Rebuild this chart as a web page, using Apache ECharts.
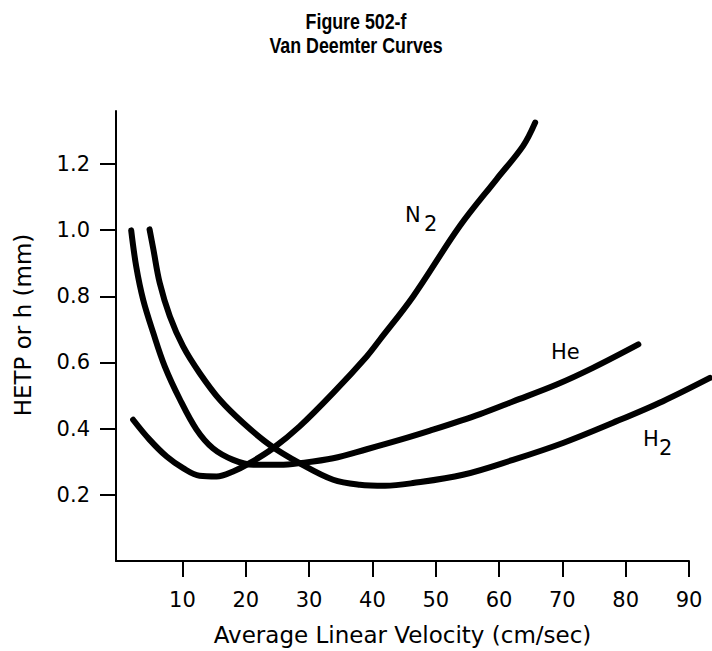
<!DOCTYPE html>
<html>
<head>
<meta charset="utf-8">
<script src="https://cdn.jsdelivr.net/npm/echarts@6/dist/echarts.min.js"></script>
<style>
  html, body { margin: 0; padding: 0; background: #fff; }
  #chart { width: 712px; height: 651px; }
</style>
</head>
<body>
<div id="chart"></div>
<script>
// ---- data ----
const heVelocity = [1.9, 2.7, 3.8, 5.4, 7.2, 9.6, 12.2, 14.8, 18.0, 21.2, 25.4, 28.5, 33.8, 39.1, 44.3, 49.1, 57.0, 62.2, 69.1, 74.9, 82.0];
const heHetp     = [1.0, 0.89, 0.79, 0.69, 0.59, 0.49, 0.40, 0.343, 0.308, 0.293, 0.293, 0.298, 0.313, 0.34, 0.368, 0.396, 0.446, 0.484, 0.535, 0.586, 0.656];

const h2Velocity = [4.8, 5.4, 6.4, 8.0, 10.1, 12.7, 15.9, 19.6, 23.8, 28.5, 33.8, 38.0, 42.0, 46.4, 54.3, 62.2, 70.1, 78.0, 85.9, 93.3];
const h2Hetp     = [1.003, 0.943, 0.842, 0.741, 0.65, 0.57, 0.489, 0.419, 0.353, 0.298, 0.248, 0.233, 0.23, 0.238, 0.263, 0.308, 0.359, 0.42, 0.485, 0.555];

const n2Velocity = [2.2, 4.8, 7.5, 10.1, 12.7, 15.4, 18.0, 20.6, 24.3, 28.5, 33.8, 39.1, 41.2, 46.4, 53.8, 59.6, 63.8, 65.7];
const n2Hetp     = [0.429, 0.369, 0.318, 0.283, 0.26, 0.258, 0.273, 0.298, 0.343, 0.409, 0.51, 0.62, 0.671, 0.80, 1.013, 1.154, 1.255, 1.325];

const xTicks = [10, 20, 30, 40, 50, 60, 70, 80, 90];
const yTicks = [0.2, 0.4, 0.6, 0.8, 1.0, 1.2];

const titleLines = ['Figure 502-f', 'Van Deemter Curves'];
const xName = 'Average Linear Velocity (cm/sec)';
const yName = 'HETP or h (mm)';

// ---- chart ----
const pair = (xs, ys) => xs.map((x, i) => [x, ys[i]]);
const FONT = '"DejaVu Sans", Verdana, sans-serif';
const TFONT = 'bold 22px "Liberation Sans", Arial, sans-serif';
const chart = echarts.init(document.getElementById('chart'), null, { renderer: 'svg' });

// axis geometry
const X_MIN = -0.5, X_MAX = 90, Y_MIN = 0, Y_MAX = 1.36;
const GL = 116, GR = 23, GT = 111, GB = 89, W = 712;
const pxPerUnit = (W - GL - GR) / (X_MAX - X_MIN);
const X_MAX_PLOT = X_MIN + (W - GL) / pxPerUnit; // plotting grid reaches the right edge

const curve = (name, data) => ({
  name, type: 'line', data, smooth: 0.35, symbol: 'none', clip: false,
  xAxisIndex: 1, yAxisIndex: 1,
  lineStyle: { color: '#000', width: 6, cap: 'round', join: 'round' },
  emphasis: { disabled: true }, silent: true
});

const txt = (text, x, y, extra) => ({
  type: 'text', x, y, silent: true,
  style: Object.assign({ text, font: '21px ' + FONT, fill: '#000' }, extra || {})
});

chart.setOption({
  animation: false,
  backgroundColor: '#fff',
  grid: [
    { left: GL, right: GR, top: GT, bottom: GB, containLabel: false },
    { left: GL, right: 0, top: GT, bottom: GB, containLabel: false }
  ],
  xAxis: [{
    gridIndex: 0, type: 'value', min: X_MIN, max: X_MAX,
    name: xName, nameLocation: 'middle', nameGap: 62,
    nameTextStyle: { fontFamily: FONT, fontSize: 23, color: '#000' },
    axisLine: { show: true, onZero: false, lineStyle: { color: '#000', width: 2 } },
    axisTick: { show: true, inside: false, length: 16, customValues: xTicks, lineStyle: { color: '#000', width: 2 } },
    axisLabel: { customValues: xTicks, margin: 28, fontFamily: FONT, fontSize: 21, color: '#000' },
    splitLine: { show: false }
  }, {
    gridIndex: 1, type: 'value', min: X_MIN, max: X_MAX_PLOT, show: false,
    splitLine: { show: false }
  }],
  yAxis: [{
    gridIndex: 0, type: 'value', min: Y_MIN, max: Y_MAX,
    name: yName, nameLocation: 'middle', nameGap: 82, nameRotate: 90,
    nameTextStyle: { fontFamily: FONT, fontSize: 23, color: '#000', padding: [0, 0, 0, 22] },
    axisLine: { show: true, onZero: false, lineStyle: { color: '#000', width: 2 } },
    axisTick: { show: true, inside: false, length: 16, customValues: yTicks, lineStyle: { color: '#000', width: 2 } },
    axisLabel: { customValues: yTicks, margin: 26, fontFamily: FONT, fontSize: 21, color: '#000',
                 formatter: v => v.toFixed(1) },
    splitLine: { show: false }
  }, {
    gridIndex: 1, type: 'value', min: Y_MIN, max: Y_MAX, show: false,
    splitLine: { show: false }
  }],
  graphic: [
    txt(titleLines[0], 356, 21, { font: TFONT, align: 'center', verticalAlign: 'middle' }),
    txt(titleLines[1], 356, 45, { font: TFONT, align: 'center', verticalAlign: 'middle' }),
    txt('N', 405, 204),
    txt('2', 424, 213),
    txt('He', 551, 341),
    txt('H', 643, 428),
    txt('2', 659, 437)
  ],
  series: [
    curve('He', pair(heVelocity, heHetp)),
    curve('H2', pair(h2Velocity, h2Hetp)),
    curve('N2', pair(n2Velocity, n2Hetp))
  ]
});

// narrow the title to the reference's condensed face
const opt = chart.getOption();
opt.graphic[0].elements[0].scaleX = 0.81;
opt.graphic[0].elements[1].scaleX = 0.81;
chart.setOption({ graphic: opt.graphic });
</script>
</body>
</html>
